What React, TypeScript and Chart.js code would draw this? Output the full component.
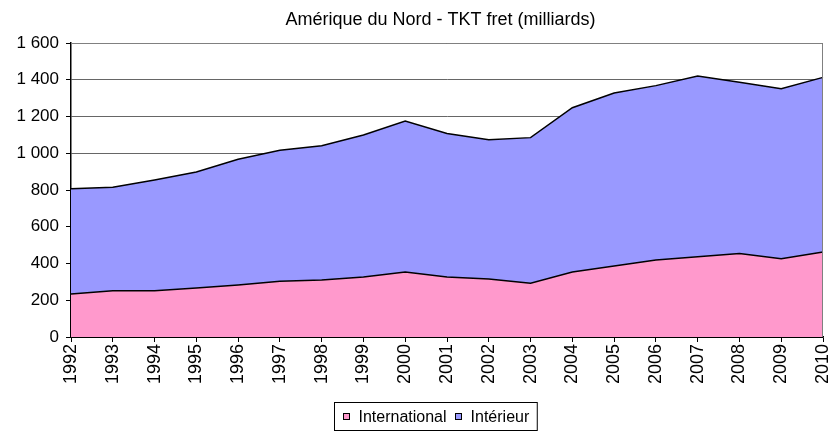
import React, { useEffect, useRef } from "react";
import { Chart, registerables } from "chart.js";

Chart.register(...registerables);

const years = ["1992","1993","1994","1995","1996","1997","1998","1999","2000","2001","2002","2003","2004","2005","2006","2007","2008","2009","2010"];
const international = [234, 252, 252, 267, 283, 303, 310, 327, 354, 327, 316, 292, 354, 386, 419, 437, 455, 426, 463];
const interieur = [573, 563, 602, 631, 684, 713, 731, 772, 821, 781, 758, 793, 894, 942, 949, 983, 931, 925, 950];
const seriesLabels = ["International", "Intérieur"];
const seriesColors = ["#FF99CC", "#9999FF"];
const titleText = "Amérique du Nord - TKT fret (milliards)";
const FONT = "'Liberation Sans', Arial, sans-serif";

const fmt = (v: number) => String(v).replace(/\B(?=(\d{3})+(?!\d))/g, " ");

const framePlugin = {
  id: "frame",
  afterDatasetsDraw(chart: any) {
    const { ctx, chartArea } = chart;
    ctx.save();
    ctx.strokeStyle = "#808080";
    ctx.lineWidth = 1;
    ctx.beginPath();
    ctx.moveTo(chartArea.left, Math.round(chartArea.top) + 0.5);
    ctx.lineTo(Math.round(chartArea.right) - 0.5, Math.round(chartArea.top) + 0.5);
    ctx.lineTo(Math.round(chartArea.right) - 0.5, chartArea.bottom);
    ctx.stroke();
    ctx.restore();
  },
};

const titlePlugin = {
  id: "topTitle",
  afterDraw(chart: any) {
    const { ctx } = chart;
    ctx.save();
    ctx.font = `18px ${FONT}`;
    ctx.fillStyle = "#000";
    ctx.textAlign = "center";
    ctx.textBaseline = "alphabetic";
    ctx.fillText(titleText, chart.width / 2 + 26, 25);
    ctx.restore();
  },
};

const legendPlugin = {
  id: "boxLegend",
  afterDraw(chart: any) {
    const { ctx } = chart;
    ctx.save();
    ctx.font = `16px ${FONT}`;
    const pad = 8, box = 7, gap = 9, itemGap = 8;
    const widths = seriesLabels.map((l) => ctx.measureText(l).width);
    let total = pad * 2;
    widths.forEach((w, i) => { total += box + gap + w + (i > 0 ? itemGap : 0); });
    const cx = chart.width / 2 + 21;
    const left = Math.round(cx - total / 2) + 0.5;
    const top = 402.5;
    const h = 28;
    ctx.strokeStyle = "#000";
    ctx.lineWidth = 1;
    ctx.strokeRect(left, top, total, h);
    let x = left + pad;
    const cy = top + h / 2;
    seriesLabels.forEach((l, i) => {
      if (i > 0) x += itemGap;
      ctx.fillStyle = seriesColors[i];
      ctx.fillRect(Math.round(x), Math.round(cy - box / 2), box, box);
      ctx.strokeStyle = "#000";
      ctx.strokeRect(Math.round(x) + 0.5, Math.round(cy - box / 2) + 0.5, box - 1, box - 1);
      x += box + gap;
      ctx.fillStyle = "#000";
      ctx.textBaseline = "middle";
      ctx.textAlign = "left";
      ctx.fillText(l, x, cy + 1);
      x += widths[i];
    });
    ctx.restore();
  },
};

export default function App() {
  const ref = useRef<HTMLCanvasElement | null>(null);
  useEffect(() => {
    document.body.style.margin = "0";
    const canvas = ref.current!;
    const chart = new Chart(canvas, {
      type: "line",
      data: {
        labels: years,
        datasets: [
          {
            label: seriesLabels[0],
            data: international,
            backgroundColor: seriesColors[0],
            borderColor: "#000",
            borderWidth: 1.5,
            fill: "origin",
            pointRadius: 0,
            tension: 0,
          },
          {
            label: seriesLabels[1],
            data: interieur,
            backgroundColor: seriesColors[1],
            borderColor: "#000",
            borderWidth: 1.5,
            fill: "-1",
            pointRadius: 0,
            tension: 0,
          },
        ],
      },
      options: {
        responsive: false,
        animation: false,
        layout: { padding: { left: 0, right: 6, top: 43, bottom: 40 } },
        plugins: {
          legend: { display: false },
          tooltip: { enabled: false },
          title: { display: false },
        },
        scales: {
          x: {
            offset: false,
            grid: { display: true, drawOnChartArea: false, drawTicks: true, tickLength: 5, tickColor: "#000" },
            border: { color: "#000", width: 1.5 },
            ticks: {
              color: "#000",
              font: { family: FONT, size: 18 },
              minRotation: 90,
              maxRotation: 90,
              autoSkip: false,
              padding: 2,
            },
            afterFit(scale: any) {
              scale.height = 54;
              scale.paddingRight = 0;
              scale.paddingLeft = 0;
            },
          },
          y: {
            stacked: true,
            min: 0,
            max: 1600,
            grid: {
              color: (c: any) => (c.tick && c.tick.value === 0 ? "#000" : "#666"),
              lineWidth: 1,
              tickLength: 5,
              tickColor: "#000",
            },
            border: { color: "#000", width: 1.5 },
            ticks: {
              stepSize: 200,
              color: "#000",
              font: { family: FONT, size: 17 },
              padding: 7,
              callback: (v: any) => fmt(Number(v)),
            },
            afterFit(scale: any) { scale.width = 71; },
          },
        },
      },
      plugins: [framePlugin, titlePlugin, legendPlugin],
    });
    return () => chart.destroy();
  }, []);
  return (
    <div style={{ position: "absolute", left: 0, top: 0, width: 829, height: 431, background: "#fff" }}>
      <canvas ref={ref} width={829} height={431} />
    </div>
  );
}
